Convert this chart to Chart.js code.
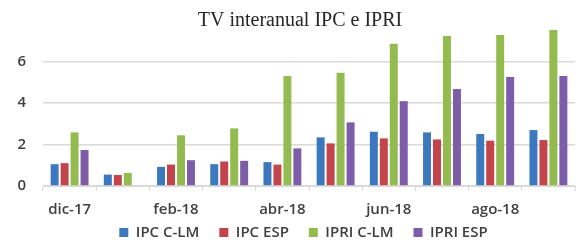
<!DOCTYPE html>
<html lang="es">
<head>
    <meta charset="UTF-8">
    <title>TV interanual IPC e IPRI</title>
    <style>
        html,
        body {
            margin: 0;
            padding: 0;
            background: #ffffff;
        }

        .chart-box {
            position: relative;
            width: 579px;
            height: 242px;
        }
    </style>
</head>
<body>
    <div class="chart-box">
        <canvas id="tvChart"></canvas>
    </div>

    <script src="https://cdn.jsdelivr.net/npm/chart.js"></script>
    <script>
        // meses (dic-17 .. sep-18)
        const months = ['dic-17', 'ene-18', 'feb-18', 'mar-18', 'abr-18', 'may-18', 'jun-18', 'jul-18', 'ago-18', 'sep-18'];
        const ipcClm = [1.05, 0.55, 0.92, 1.05, 1.15, 2.34, 2.61, 2.58, 2.50, 2.69];
        const ipcEsp = [1.10, 0.53, 1.03, 1.18, 1.03, 2.05, 2.29, 2.24, 2.18, 2.21];
        const ipriClm = [2.58, 0.63, 2.44, 2.77, 5.29, 5.45, 6.84, 7.21, 7.26, 7.50];
        const ipriEsp = [1.73, null, 1.24, 1.21, 1.81, 3.06, 4.08, 4.66, 5.24, 5.29];
        const yTicks = [0, 2, 4, 6];

        const axisFont = { family: "'Open Sans', sans-serif", size: 15, weight: '600', lineHeight: 1 };

        // legend takes little room in the layout and is drawn just under the x labels
        const legendSpot = {
            id: 'legendSpot',
            beforeInit(chart) {
                const fit = chart.legend.fit;
                chart.legend.fit = function () {
                    fit.call(this);
                    this.height = 25;
                };
            },
            afterLayout(chart) {
                const lg = chart.legend;
                lg.top = 205;
                lg.bottom = chart.height;
                lg.height = lg.bottom - lg.top;
                lg.left += 16;
                lg.right += 16;
                // title sits a bit left of the plot centre
                const tb = chart.titleBlock;
                tb.left -= 9;
                tb.right -= 9;
            }
        };

        const ctx = document.getElementById('tvChart').getContext('2d');
        const tvChart = new Chart(ctx, {
            type: 'bar',
            data: {
                labels: months,
                datasets: [
                    { label: 'IPC C-LM', data: ipcClm, backgroundColor: '#3B78BE' },
                    { label: 'IPC ESP', data: ipcEsp, backgroundColor: '#C4444B' },
                    { label: 'IPRI C-LM', data: ipriClm, backgroundColor: '#94BB4F' },
                    { label: 'IPRI ESP', data: ipriEsp, backgroundColor: '#7D5CA8' }
                ]
            },
            options: {
                responsive: true,
                maintainAspectRatio: false,
                animation: false,
                categoryPercentage: 0.75,
                barPercentage: 0.8,
                layout: {
                    padding: { left: 0, right: 4, top: 0, bottom: 0 }
                },
                scales: {
                    x: {
                        afterFit: (scale) => {
                            scale.height = 31;
                        },
                        grid: {
                            offset: true,
                            drawOnChartArea: false,
                            drawTicks: true,
                            tickLength: 5,
                            color: '#d9d9d9'
                        },
                        border: { color: '#d9d9d9' },
                        ticks: {
                            autoSkip: false,
                            maxRotation: 0,
                            minRotation: 0,
                            padding: 11,
                            color: '#404040',
                            font: axisFont,
                            callback: (val, i) => (i % 2 === 0 ? months[i] : '')
                        }
                    },
                    y: {
                        min: 0,
                        max: 7.6,
                        afterBuildTicks: (scale) => {
                            scale.ticks = yTicks.map(v => ({ value: v }));
                        },
                        afterFit: (scale) => {
                            scale.width = 43;
                        },
                        grid: {
                            drawTicks: false,
                            color: '#d9d9d9',
                            lineWidth: 1.5
                        },
                        border: { display: false },
                        ticks: {
                            padding: 17,
                            color: '#404040',
                            font: axisFont
                        }
                    }
                },
                plugins: {
                    title: {
                        display: true,
                        fullSize: false,
                        text: 'TV interanual IPC e IPRI',
                        color: '#262626',
                        font: { family: "'Liberation Serif', serif", size: 20, weight: 'normal', lineHeight: 1.2 },
                        padding: { top: 9, bottom: -5 }
                    },
                    legend: {
                        display: true,
                        position: 'bottom',
                        labels: {
                            boxWidth: 9,
                            boxHeight: 9,
                            padding: 20,
                            color: '#404040',
                            font: { family: "'Open Sans', sans-serif", size: 15, weight: '600' }
                        }
                    },
                    tooltip: { enabled: false }
                }
            },
            plugins: [legendSpot]
        });
    </script>
</body>
</html>
